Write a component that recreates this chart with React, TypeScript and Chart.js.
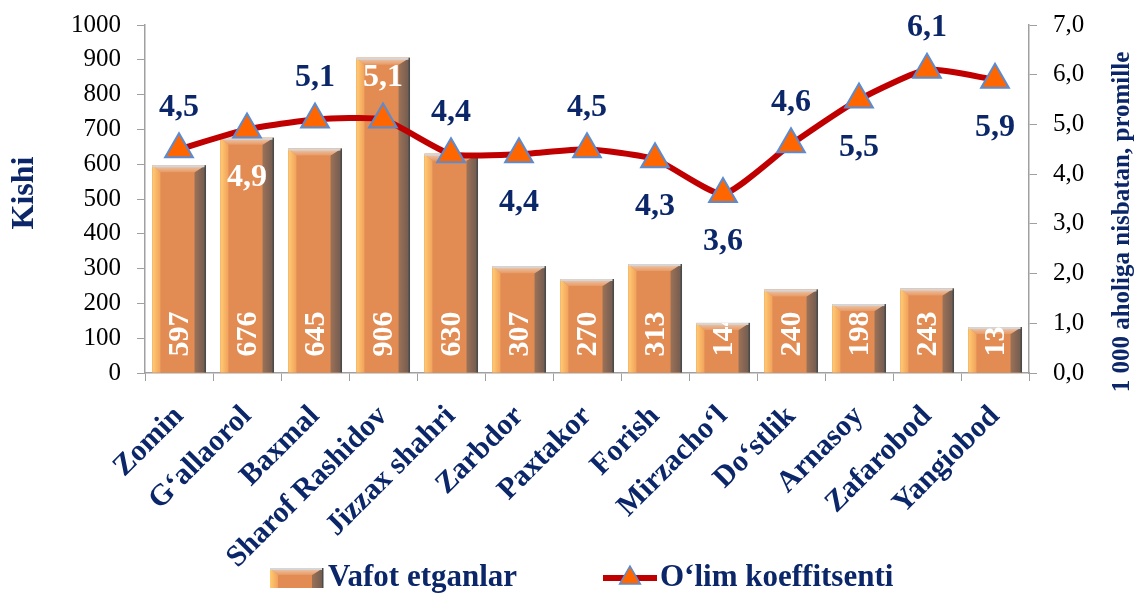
import React, { useEffect, useRef } from "react";
import { Chart, registerables } from "chart.js";

Chart.register(...registerables);

const categories = [
  "Zomin",
  "G‘allaorol",
  "Baxmal",
  "Sharof Rashidov",
  "Jizzax shahri",
  "Zarbdor",
  "Paxtakor",
  "Forish",
  "Mirzacho‘l",
  "Do‘stlik",
  "Arnasoy",
  "Zafarobod",
  "Yangiobod",
];
const deaths = [597, 676, 645, 906, 630, 307, 270, 313, 144, 240, 198, 243, 132];
const rate = [4.5, 4.9, 5.1, 5.1, 4.4, 4.4, 4.5, 4.3, 3.6, 4.6, 5.5, 6.1, 5.9];
const rateLabelPos = ["up", "down", "up", "up", "up", "down", "up", "down", "down", "up", "down", "up", "down"];
const rateLabelLight = [false, true, false, true, false, false, false, false, false, false, false, false, false];

const barLegend = "Vafot etganlar";
const lineLegend = "O‘lim koeffitsenti";
const leftTitle = "Kishi";
const rightTitle = "1 000 aholiga nisbatan, promille";

const NAVY = "#0B2769";
const SERIF = "'Liberation Serif', 'Times New Roman', serif";
const fmt = (v: number) => v.toFixed(1).replace(".", ",");

function bevelBar(ctx: CanvasRenderingContext2D, L: number, T: number, R: number, B: number) {
  const w = R - L;
  const h = B - T;
  const bl = Math.min(8, w * 0.16);
  const br = Math.min(11, w * 0.21);
  const bt = Math.min(7, h / 2);
  ctx.save();
  ctx.fillStyle = "#E28B52";
  ctx.fillRect(L, T, w, h);
  let g = ctx.createLinearGradient(L, 0, L + bl, 0);
  g.addColorStop(0, "#FFCC70");
  g.addColorStop(1, "#F2A15C");
  ctx.fillStyle = g;
  ctx.beginPath();
  ctx.moveTo(L, T);
  ctx.lineTo(L + bl, T + bt);
  ctx.lineTo(L + bl, B);
  ctx.lineTo(L, B);
  ctx.closePath();
  ctx.fill();
  g = ctx.createLinearGradient(R - br, 0, R, 0);
  g.addColorStop(0, "#9C7257");
  g.addColorStop(1, "#6F5B50");
  ctx.fillStyle = g;
  ctx.beginPath();
  ctx.moveTo(R, T);
  ctx.lineTo(R - br, T + bt);
  ctx.lineTo(R - br, B);
  ctx.lineTo(R, B);
  ctx.closePath();
  ctx.fill();
  g = ctx.createLinearGradient(0, T, 0, T + bt);
  g.addColorStop(0, "#E9CDB8");
  g.addColorStop(1, "#E99A64");
  ctx.fillStyle = g;
  ctx.beginPath();
  ctx.moveTo(L, T);
  ctx.lineTo(R, T);
  ctx.lineTo(R - br, T + bt);
  ctx.lineTo(L + bl, T + bt);
  ctx.closePath();
  ctx.fill();
  ctx.fillStyle = "#D6D6D6";
  ctx.fillRect(L, T, w, 2);
  ctx.fillStyle = "#4A4A4A";
  ctx.fillRect(R - 1, T, 1.5, h);
  ctx.restore();
}

const customPlugin = {
  id: "customDraw",
  afterDatasetDraw(chart: any, args: any) {
    if (args.index !== 0) return;
    const ctx: CanvasRenderingContext2D = chart.ctx;
    const meta = chart.getDatasetMeta(0);
    meta.data.forEach((bar: any, i: number) => {
      const L = bar.x - bar.width / 2;
      const R = bar.x + bar.width / 2;
      const T = bar.y;
      const B = bar.base;
      bevelBar(ctx, L, T, R, B);
      ctx.save();
      ctx.beginPath();
      ctx.rect(L, T, R - L, B - T);
      ctx.clip();
      ctx.translate(bar.x, B - 16);
      ctx.rotate(-Math.PI / 2);
      ctx.font = `bold 30px ${SERIF}`;
      ctx.fillStyle = "#FFFFFF";
      ctx.textAlign = "left";
      ctx.textBaseline = "middle";
      ctx.fillText(String(deaths[i]), 0, 1);
      ctx.restore();
    });
  },
  afterDatasetsDraw(chart: any) {
    const ctx: CanvasRenderingContext2D = chart.ctx;
    const meta = chart.getDatasetMeta(1);
    ctx.save();
    ctx.font = `bold 32px ${SERIF}`;
    ctx.textAlign = "center";
    ctx.textBaseline = "middle";
    meta.data.forEach((pt: any, i: number) => {
      const dy = rateLabelPos[i] === "up" ? -42 : 48;
      ctx.fillStyle = rateLabelLight[i] ? "#FFFFFF" : NAVY;
      ctx.fillText(fmt(rate[i]), pt.x, pt.y + dy);
    });
    ctx.restore();
  },
  afterDraw(chart: any) {
    const ctx: CanvasRenderingContext2D = chart.ctx;
    ctx.save();
    ctx.fillStyle = NAVY;
    ctx.textAlign = "center";
    ctx.textBaseline = "middle";
    ctx.save();
    ctx.translate(25, 193);
    ctx.rotate(-Math.PI / 2);
    ctx.font = `bold 32px ${SERIF}`;
    ctx.fillText(leftTitle, 0, 0);
    ctx.restore();
    ctx.save();
    ctx.translate(1123, 222);
    ctx.rotate(-Math.PI / 2);
    ctx.font = `bold 25px ${SERIF}`;
    ctx.fillText(rightTitle, 0, 0);
    ctx.restore();
    const ly = 578;
    bevelBar(ctx, 270, 568, 323, 588);
    ctx.font = `bold 31px ${SERIF}`;
    ctx.textAlign = "left";
    ctx.fillStyle = NAVY;
    ctx.fillText(barLegend, 328, ly);
    ctx.strokeStyle = "#C00000";
    ctx.lineWidth = 6;
    ctx.beginPath();
    ctx.moveTo(603, ly);
    ctx.lineTo(657, ly);
    ctx.stroke();
    const r = 12;
    const cx = 630;
    const cy = ly;
    ctx.beginPath();
    ctx.moveTo(cx, cy - r);
    ctx.lineTo(cx + r * 0.866, cy + r * 0.5);
    ctx.lineTo(cx - r * 0.866, cy + r * 0.5);
    ctx.closePath();
    ctx.fillStyle = "#FF6600";
    ctx.fill();
    ctx.strokeStyle = "#5B8BD0";
    ctx.lineWidth = 1.5;
    ctx.stroke();
    ctx.fillStyle = NAVY;
    ctx.fillText(lineLegend, 660, ly);
    ctx.restore();
  },
};

export default function App() {
  const ref = useRef<HTMLCanvasElement | null>(null);
  useEffect(() => {
    document.body.style.margin = "0";
    const canvas = ref.current;
    if (!canvas) return;
    const chart = new Chart(canvas, {
      type: "bar",
      data: {
        labels: categories,
        datasets: [
          {
            type: "bar",
            label: barLegend,
            data: deaths,
            backgroundColor: "#E28B52",
            borderWidth: 0,
            barPercentage: 0.78,
            categoryPercentage: 1,
            yAxisID: "y",
            order: 1,
          },
          {
            type: "line",
            label: lineLegend,
            data: rate,
            borderColor: "#C00000",
            borderWidth: 6,
            tension: 0.18,
            pointStyle: "triangle",
            pointRadius: 16,
            pointHoverRadius: 16,
            pointBackgroundColor: "#FF6600",
            pointBorderColor: "#5B8BD0",
            pointBorderWidth: 2,
            yAxisID: "y1",
            order: 0,
          } as any,
        ],
      },
      options: {
        responsive: false,
        animation: false,
        layout: { autoPadding: false, padding: { top: 25, left: 0, right: 0, bottom: 0 } },
        plugins: {
          legend: { display: false },
          tooltip: { enabled: false },
          title: { display: false },
        },
        scales: {
          x: {
            offset: true,
            grid: {
              offset: true,
              drawOnChartArea: false,
              drawTicks: true,
              tickLength: 8,
              color: "#A0A0A0",
            },
            border: { display: true, color: "#A0A0A0", width: 1.5 },
            ticks: {
              minRotation: 45,
              maxRotation: 45,
              autoSkip: false,
              padding: 18,
              color: NAVY,
              font: { family: SERIF, size: 30, weight: "bold" },
            },
            afterFit: (s: any) => {
              s.height = 221;
              s.paddingLeft = 0;
              s.paddingRight = 0;
            },
          },
          y: {
            position: "left",
            min: 0,
            max: 1000,
            ticks: {
              stepSize: 100,
              padding: 16,
              color: "#000000",
              font: { family: SERIF, size: 25 },
              callback: (v: any) => String(v),
            },
            grid: { drawOnChartArea: false, drawTicks: true, tickLength: 8, color: "#A0A0A0" },
            border: { display: true, color: "#A0A0A0", width: 1.5 },
            afterFit: (s: any) => {
              s.width = 145;
              s.paddingTop = 0;
              s.paddingBottom = 0;
            },
          },
          y1: {
            position: "right",
            min: 0,
            max: 7,
            ticks: {
              stepSize: 1,
              padding: 16,
              color: "#000000",
              font: { family: SERIF, size: 25 },
              callback: (v: any) => fmt(Number(v)),
            },
            grid: { drawOnChartArea: false, drawTicks: true, tickLength: 8, color: "#A0A0A0" },
            border: { display: true, color: "#A0A0A0", width: 1.5 },
            afterFit: (s: any) => {
              s.width = 110;
              s.paddingTop = 0;
              s.paddingBottom = 0;
            },
          },
        },
      } as any,
      plugins: [customPlugin],
    });
    return () => chart.destroy();
  }, []);
  return (
    <div style={{ width: 1139, height: 594, background: "#FFFFFF" }}>
      <canvas ref={ref} width={1139} height={594} style={{ display: "block" }} />
    </div>
  );
}
